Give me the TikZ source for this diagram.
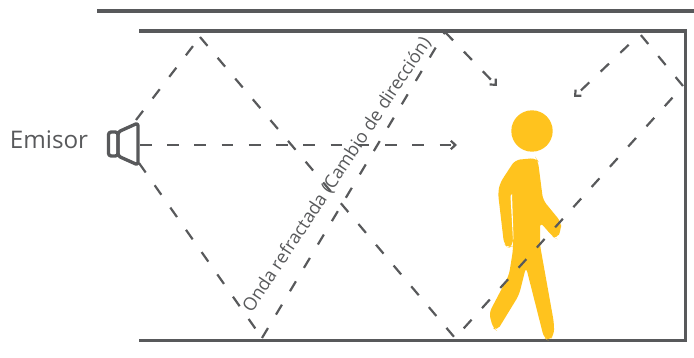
\documentclass[tikz,border=0pt]{standalone}
\usepackage{fontspec}
\setmainfont{Open Sans}
\usetikzlibrary{arrows.meta}
\definecolor{wallgray}{HTML}{58595B}
\definecolor{walkeryellow}{HTML}{FFC31E}
\tikzset{
    wall/.style={line width=2.2pt, wallgray},
    ray/.style={line width=1.25pt, wallgray, dash pattern=on 6.6pt off 8.9pt},
    rayarrow/.style={ray, -{Straight Barb[length=2.6pt,width=4.8pt]}},
    gapfirst/.style={dash phase=6.6pt},
    spk/.style={line width=1.9pt, wallgray, line join=round, rounded corners=1.5pt},
    label/.style={text=wallgray, inner sep=0pt}
}
\begin{document}
\begin{tikzpicture}[x=0.02cm, y=-0.02cm]
    \useasboundingbox (0,0) rectangle (694,358);

    % Reflection points
    \coordinate (top1) at (200,37);
    \coordinate (top2) at (445,32);
    \coordinate (top3) at (640,34);
    \coordinate (bot1) at (262,338);
    \coordinate (bot2) at (455,338);
    \coordinate (side) at (683,86);
    \coordinate (spkup) at (136,120);
    \coordinate (spkdown) at (139,163);
    \coordinate (spkmid) at (140,145);
    \coordinate (aim1) at (457,145);
    \coordinate (aim2) at (497,86);
    \coordinate (aim3) at (574,97);

    % Walls
    \draw[wall] (97,10.7) -- (694,10.7);
    \draw[wall] (139,30.7) -- (685.5,30.7) -- (685.5,340.5) -- (139,340.5);

    % Person
    \fill[walkeryellow] (532,131) circle (20.7);
    \fill[walkeryellow, rounded corners=3pt] (515,160) -- (536,158) -- (538,161) -- (543,200)
        -- (561,222) -- (561,230) -- (557,239) -- (553,237) -- (540,222) -- (540,245)
        -- (554,323) -- (554,335) -- (549,341) -- (544,338) -- (526,267)
        -- (519,295) -- (497,331) -- (493,328) -- (489,313) -- (509,275)
        -- (513,250) -- (513,240) -- (513,246) -- (508,248) -- (504,244) -- (498,193) -- (500,183) -- cycle;
    \fill[white] (510.5,196) -- (512,194) -- (513.5,238) -- (513,240) -- cycle;

    % Rays
    \draw[ray] (spkup) -- (top1);
    \draw[ray] (top1) -- (bot2);
    \draw[ray, gapfirst] (side) -- (bot2);
    \draw[ray] (side) -- (top3);
    \draw[rayarrow, gapfirst] (top3) -- (aim3);
    \draw[ray] (spkdown) -- (bot1);
    \draw[ray] (bot1) -- (top2);
    \draw[rayarrow] (top2) -- (aim2);
    \draw[rayarrow] (spkmid) -- (aim1);

    % Speaker
    \draw[spk] (118,132) -- (138,123) -- (138,165) -- (118,156) -- cycle;
    \draw[spk] (118,132) -- (108.5,132) -- (108.5,156) -- (118,156) -- cycle;

    % Labels
    \node[label, font=\fontsize{13.8}{16}\selectfont] (emisor) at (49,140) {Emisor};
    \node[label, font=\fontsize{10.3}{12}\selectfont, rotate=56.5] (refractada) at (337,175)
        {Onda refractada (Cambio de dirección)};
\end{tikzpicture}
\end{document}
